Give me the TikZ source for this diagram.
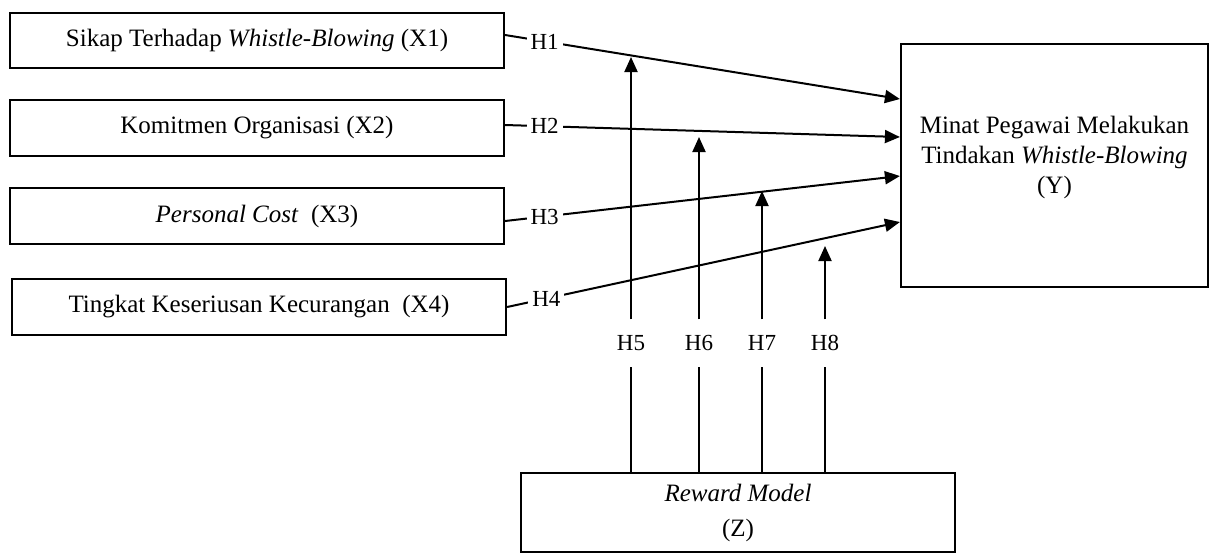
\documentclass[tikz,border=0pt]{standalone}
\usepackage{fontspec}
\setmainfont{Liberation Serif}
\usetikzlibrary{arrows.meta}
\usetikzlibrary{positioning}
\tikzset{var/.style={draw, line width=1.1pt, minimum width=247pt, minimum height=28pt, inner sep=2pt}}
\tikzset{hyp/.style={fill=white, inner xsep=2pt, inner ysep=7.5pt, font=\fontsize{11.5}{14}\selectfont}}

\begin{document}
\begin{tikzpicture}[x=0.5pt,y=-0.5pt,->,>={Triangle[length=7.5pt,width=6.5pt]},
                    line width=1pt,font=\fontsize{12.5}{15}\selectfont]
   \useasboundingbox (0,0) rectangle (1211,554);

   \node[var, minimum height=27.5pt] (X1) at (257,40.5) {Sikap Terhadap \textit{Whistle-Blowing} (X1)};
   \node[var] (X2) at (257,128) {Komitmen Organisasi (X2)};
   \node[var] (X3) at (257,216) {\textit{Personal Cost}\ \ (X3)};
   \node[var] (X4) at (259,307) {Tingkat Keseriusan Kecurangan\ \ (X4)};

   \node[var, minimum width=153.5pt, minimum height=121.5pt, align=center] (Y) at (1054.5,165.5)
      {Minat Pegawai Melakukan\\Tindakan \textit{Whistle-Blowing}\\(Y)\\[-4pt]};
   \node[var, minimum width=217pt, minimum height=39.5pt, align=center] (Z) at (738,512.5)
      {\textit{Reward Model}\\[2.5pt](Z)};

   \path[every node/.style={hyp, pos=0.1}]
      ([yshift=2.75pt]X1.east) edge node {H1} ([yshift=33.25pt]Y.west)
      ([yshift=1.5pt]X2.east) edge node {H2} ([yshift=14.25pt]Y.west)
      ([yshift=-2.5pt]X3.east) edge node {H3} ([yshift=-5.25pt]Y.west)
      (X4.east) edge node {H4} ([yshift=-28.25pt]Y.west)
   ;

   \coordinate (t5) at (631,57);
   \coordinate (t6) at (699,137);
   \coordinate (t7) at (762,191);
   \coordinate (t8) at (825,246);

   \foreach \i/\x in {5/631,6/699,7/762,8/825}{
      \node[hyp, fill=none] (h\i) at (\x,343) {H\i};
      \draw[-] (Z.north -| h\i) -- (h\i);
      \draw (h\i) -- (t\i);
   }
\end{tikzpicture}
\end{document}
